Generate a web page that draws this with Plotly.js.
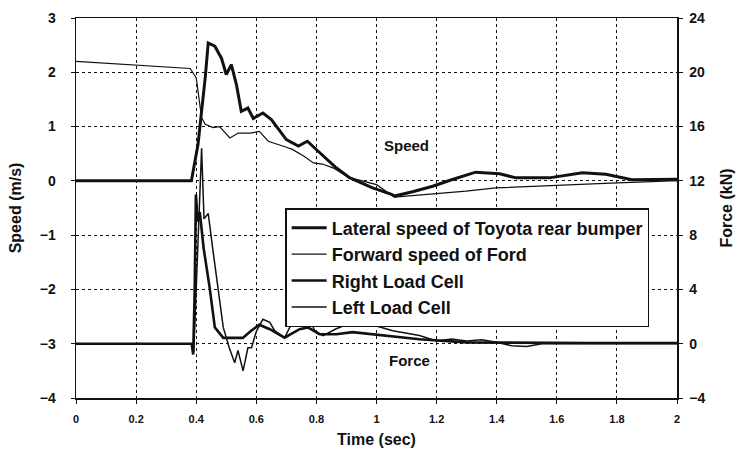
<!DOCTYPE html>
<html>
<head>
<meta charset="utf-8">
<script src="https://cdn.plot.ly/plotly-3.0.1.min.js"></script>
<style>html,body{margin:0;padding:0;background:#fff;}#chart{width:741px;height:453px;}</style>
</head>
<body>
<div id="chart"></div>
<script>
// Lateral speed of Toyota rear bumper (m/s)
const timeLateral = [0, 0.384, 0.406, 0.43, 0.44, 0.462, 0.484, 0.50, 0.517, 0.534, 0.55, 0.572, 0.59, 0.622, 0.65, 0.70, 0.74, 0.77, 0.805, 0.866, 0.91, 0.987, 1.05, 1.06, 1.12, 1.187, 1.25, 1.33, 1.41, 1.464, 1.575, 1.685, 1.763, 1.85, 2.0];
const lateralSpeed = [0, 0, 0.67, 1.9, 2.54, 2.48, 2.26, 1.96, 2.14, 1.77, 1.28, 1.34, 1.15, 1.25, 1.13, 0.76, 0.64, 0.73, 0.55, 0.24, 0.06, -0.13, -0.25, -0.28, -0.2, -0.1, 0.02, 0.16, 0.13, 0.055, 0.055, 0.15, 0.12, 0.02, 0.03];

// Forward speed of Ford (m/s)
const timeFord = [0, 0.38, 0.40, 0.418, 0.43, 0.456, 0.478, 0.512, 0.54, 0.58, 0.61, 0.64, 0.70, 0.72, 0.76, 0.79, 0.82, 0.855, 0.91, 1.0, 1.06, 1.1, 1.187, 1.298, 1.397, 1.52, 1.63, 1.78, 1.98, 2.0];
const fordSpeed = [2.2, 2.07, 1.9, 1.16, 1.04, 0.98, 1.0, 0.79, 0.88, 0.88, 0.91, 0.73, 0.62, 0.58, 0.45, 0.33, 0.31, 0.24, 0.06, -0.07, -0.3, -0.28, -0.25, -0.19, -0.13, -0.1, -0.07, -0.04, 0.0, 0.0];

// Right Load Cell (kN)
const timeRight = [0, 0.385, 0.39, 0.395, 0.399, 0.405, 0.412, 0.425, 0.445, 0.462, 0.49, 0.555, 0.58, 0.61, 0.645, 0.694, 0.744, 0.772, 0.81, 0.866, 0.92, 1.03, 1.143, 1.3, 1.5, 1.7, 2.0];
const rightLoad = [0, 0, -0.8, 4, 11, 9.0, 9.7, 7, 4.1, 1.2, 0.43, 0.43, 0.9, 1.4, 1.07, 0.44, 1.07, 1.2, 0.7, 0.7, 0.85, 0.6, 0.33, 0.1, 0.05, 0.05, 0.05];

// Left Load Cell (kN)
const timeLeft = [0, 0.385, 0.392, 0.40, 0.41, 0.418, 0.426, 0.44, 0.455, 0.473, 0.49, 0.51, 0.528, 0.539, 0.556, 0.572, 0.584, 0.60, 0.622, 0.645, 0.661, 0.694, 0.722, 0.75, 0.772, 0.794, 0.822, 0.866, 0.92, 0.966, 1.0, 1.054, 1.1, 1.143, 1.2, 1.25, 1.3, 1.35, 1.4, 1.45, 1.5, 1.55, 1.6, 1.8, 2.0];
const leftLoad = [0, 0, -0.6, 4, 10, 14.4, 9.2, 9.6, 7, 4.1, 1.2, -0.3, -1.4, -0.5, -2.0, -0.3, -0.3, 0.9, 1.8, 1.57, 0.96, 0.44, 1.67, 2.3, 2.2, 0.96, 0.6, 1.1, 1.57, 1.8, 1.3, 0.96, 0.8, 0.6, 0.2, 0.35, 0.2, 0.3, 0.1, -0.15, -0.2, 0.0, 0.0, 0.0, 0.0];

const seriesNames = ["Lateral speed of Toyota rear bumper", "Forward speed of Ford", "Right Load Cell", "Left Load Cell"];
const xTicks = [0, 0.2, 0.4, 0.6, 0.8, 1, 1.2, 1.4, 1.6, 1.8, 2];
const xTickText = ["0", "0.2", "0.4", "0.6", "0.8", "1", "1.2", "1.4", "1.6", "1.8", "2"];

const FONT = "Arial, 'Liberation Sans', sans-serif";
const INK = "#111";

const traces = [
  {x: timeLateral, y: lateralSpeed, name: seriesNames[0], mode: "lines", line: {color: INK, width: 3}, yaxis: "y"},
  {x: timeFord, y: fordSpeed, name: seriesNames[1], mode: "lines", line: {color: INK, width: 1.2}, yaxis: "y"},
  {x: timeRight, y: rightLoad, name: seriesNames[2], mode: "lines", line: {color: INK, width: 2.6}, yaxis: "y2"},
  {x: timeLeft, y: leftLoad, name: seriesNames[3], mode: "lines", line: {color: INK, width: 1.5}, yaxis: "y2"}
];

const layout = {
  width: 741, height: 453,
  margin: {l: 76, r: 64, t: 18, b: 55},
  paper_bgcolor: "#fff", plot_bgcolor: "#fff",
  font: {family: FONT, color: INK},
  showlegend: true,
  legend: {
    x: 0.348, y: 0.5, xanchor: "left", yanchor: "top",
    bgcolor: "#fff", bordercolor: INK, borderwidth: 1.5,
    font: {family: FONT, size: 18, color: INK, weight: "bold"},
    itemwidth: 35, tracegroupgap: 0
  },
  xaxis: {
    range: [0, 2], tickvals: xTicks, ticktext: xTickText,
    showline: true, linecolor: INK, linewidth: 1.5, mirror: true,
    ticks: "outside", ticklen: 4, tickcolor: INK,
    ticklabelstandoff: 6,
    showgrid: true, gridcolor: INK, gridwidth: 1, griddash: "dot",
    zeroline: false,
    tickfont: {family: FONT, size: 11, color: INK, weight: "bold"},
    title: {text: "Time (sec)", font: {family: FONT, size: 16, color: INK, weight: "bold"}, standoff: 10}
  },
  yaxis: {
    range: [-4, 3], dtick: 1, tick0: 0,
    showline: true, linecolor: INK, linewidth: 1.5,
    ticks: "outside", ticklen: 4, tickcolor: INK,
    ticklabelstandoff: 12,
    showgrid: true, gridcolor: INK, gridwidth: 1, griddash: "dot",
    zeroline: false,
    tickfont: {family: FONT, size: 14, color: INK, weight: "bold"},
    title: {text: "Speed (m/s)", font: {family: FONT, size: 16, color: INK, weight: "bold"}, standoff: 14}
  },
  yaxis2: {
    range: [-4, 24], dtick: 4, tick0: 0,
    overlaying: "y", side: "right",
    showline: true, linecolor: INK, linewidth: 1.5,
    ticks: "outside", ticklen: 4, tickcolor: INK,
    ticklabelstandoff: 4,
    showgrid: false, zeroline: false,
    tickfont: {family: FONT, size: 14, color: INK, weight: "bold"},
    title: {text: "Force (kN)", font: {family: FONT, size: 16, color: INK, weight: "bold"}, standoff: 16}
  },
  annotations: [
    {x: 1.10, y: 0.66, xref: "x", yref: "y", text: "Speed", showarrow: false, font: {family: FONT, size: 15, color: INK, weight: "bold"}},
    {x: 1.11, y: -3.3, xref: "x", yref: "y", text: "Force", showarrow: false, font: {family: FONT, size: 15, color: INK, weight: "bold"}}
  ]
};

Plotly.newPlot("chart", traces, layout, {displayModeBar: false, staticPlot: true});
</script>
</body>
</html>
